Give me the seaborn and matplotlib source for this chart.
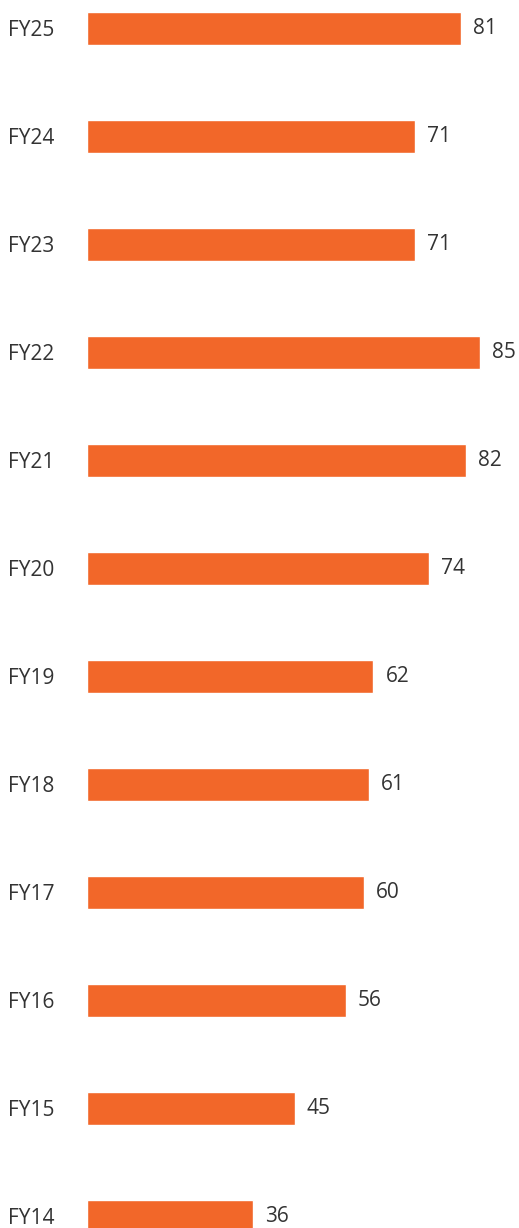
import matplotlib
matplotlib.use("Agg")
import matplotlib.pyplot as plt
import seaborn as sns
import pandas as pd

years = ["FY25", "FY24", "FY23", "FY22", "FY21", "FY20", "FY19", "FY18", "FY17", "FY16", "FY15", "FY14"]
values = [81, 71, 71, 85, 82, 74, 62, 61, 60, 56, 45, 36]

df = pd.DataFrame({"year": years, "value": values})

sns.set_theme(style="white")
plt.rcParams["font.family"] = ["Open Sans", "DejaVu Sans"]

W, H, DPI = 519, 1228, 100
fig = plt.figure(figsize=(W / DPI, H / DPI), dpi=DPI)
left = 87 / W
ax = fig.add_axes([left, 0, 1 - left, 1])

sns.barplot(data=df, x="value", y="year", orient="h", color="#F26729",
            saturation=1, width=0.305, ax=ax)

px_per_unit = 4.62
ax.set_xlim(0, (W - 87) / px_per_unit)
top = -28.5 / 108
bottom = (H - 28.5) / 108
ax.set_ylim(bottom, top)

for s in ax.spines.values():
    s.set_visible(False)
ax.set_xticks([])
ax.set_xlabel("")
ax.set_ylabel("")
ax.tick_params(axis="y", length=0, pad=79 * 72 / DPI, labelsize=15, labelcolor="#333333")
for lab in ax.get_yticklabels():
    lab.set_horizontalalignment("left")

for c in ax.containers:
    ax.bar_label(c, padding=12 * 72 / DPI, fontsize=15, color="#333333")

fig.savefig("out.png", dpi=DPI)
